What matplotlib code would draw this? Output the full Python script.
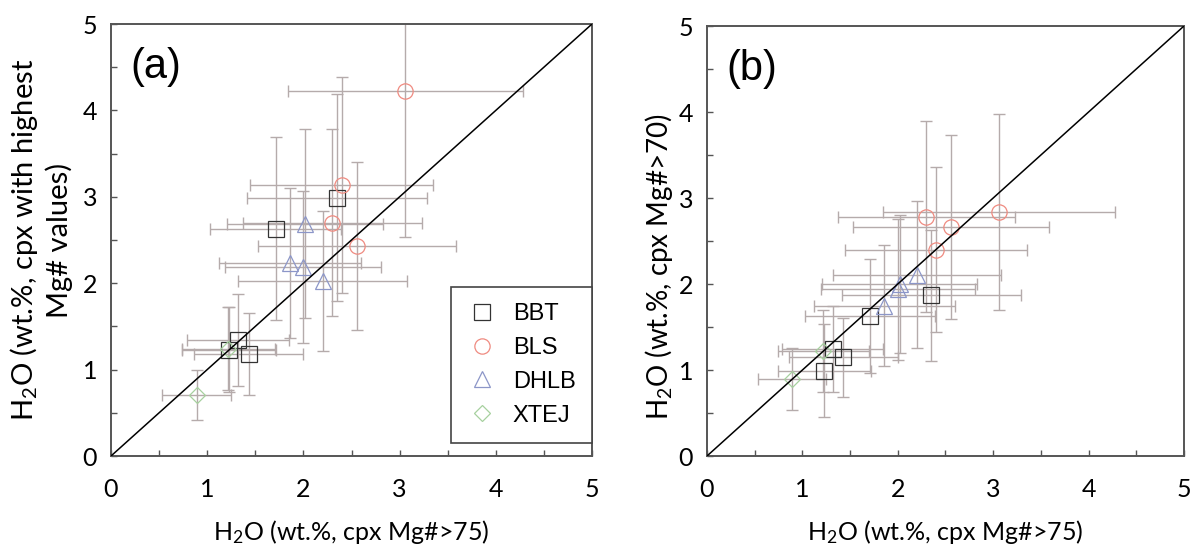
import matplotlib.pyplot as plt
from matplotlib.lines import Line2D
from matplotlib.ticker import MultipleLocator

# H2O estimates (wt.%) from cpx, x = cpx Mg#>75 for both panels
bbt_x = [1.71, 2.35, 1.32, 1.23, 1.43]
bbt_xerr = [0.68, 0.94, 0.53, 0.49, 0.57]
bbt_y_a = [2.63, 2.99, 1.34, 1.23, 1.18]
bbt_yerr_a = [1.06, 1.20, 0.53, 0.49, 0.47]
bbt_y_b = [1.63, 1.87, 1.24, 0.99, 1.15]
bbt_yerr_b = [0.66, 0.76, 0.50, 0.54, 0.46]

bls_x = [3.06, 2.40, 2.30, 2.56]
bls_xerr = [1.22, 0.95, 0.93, 1.03]
bls_y_a = [4.22, 3.14, 2.70, 2.43]
bls_yerr_a = [1.69, 1.25, 1.08, 0.97]
bls_y_b = [2.84, 2.40, 2.78, 2.66]
bls_yerr_b = [1.14, 0.96, 1.11, 1.07]

dhlb_x = [2.02, 1.86, 2.00, 2.20]
dhlb_xerr = [0.81, 0.74, 0.81, 0.88]
dhlb_y_a = [2.69, 2.23, 2.19, 2.02]
dhlb_yerr_a = [1.09, 0.87, 0.88, 0.81]
dhlb_y_b = [2.00, 1.75, 1.94, 2.11]
dhlb_yerr_b = [0.80, 0.70, 0.82, 0.85]

xtej_x = [0.89, 1.22]
xtej_xerr = [0.36, 0.48]
xtej_y_a = [0.71, 1.24]
xtej_yerr_a = [0.29, 0.48]
xtej_y_b = [0.90, 1.22]
xtej_yerr_b = [0.36, 0.48]

groups = ['BBT', 'BLS', 'DHLB', 'XTEJ']
markers = {'BBT': 's', 'BLS': 'o', 'DHLB': '^', 'XTEJ': 'D'}
sizes = {'BBT': 11, 'BLS': 11, 'DHLB': 11.5, 'XTEJ': 8}
colors = {'BBT': '#333333', 'BLS': '#ef8a80', 'DHLB': '#8c96c8', 'XTEJ': '#a6d19e'}

ERR_COLOR = '#b5abab'
FRAME_COLOR = '#555555'

plt.rcParams['mathtext.fontset'] = 'custom'
plt.rcParams['mathtext.rm'] = 'Lato'
plt.rcParams['mathtext.it'] = 'Lato:italic'


def draw_panel(ax, data, tag):
    """
        Draws one H2O-H2O comparison panel.

        Parameters
            ax:     The axes to draw on.
            data:   Dict of group -> (x, xerr, y, yerr).
            tag:    Panel label, e.g. '(a)'.
    """
    for grp in groups:
        x, xerr, y, yerr = data[grp]
        ax.errorbar(x, y, xerr=xerr, yerr=yerr, fmt='none', ecolor=ERR_COLOR,
                    elinewidth=1.0, capsize=4.5, capthick=1.0, zorder=2)
    for grp in groups:
        x, xerr, y, yerr = data[grp]
        ax.plot(x, y, linestyle='none', marker=markers[grp], markersize=sizes[grp],
                mfc='none', mec=colors[grp], mew=0.9, zorder=3)

    ax.plot([0, 5], [0, 5], color='black', lw=1.1, zorder=4)
    ax.set_xlim(0, 5)
    ax.set_ylim(0, 5)
    ax.set_xticks(range(6))
    ax.set_yticks(range(6))
    ax.xaxis.set_minor_locator(MultipleLocator(0.5))
    ax.yaxis.set_minor_locator(MultipleLocator(0.5))
    ax.tick_params(which='both', direction='in', length=4, width=1.0,
                   color=FRAME_COLOR, top=False, right=False)
    ax.tick_params(axis='x', which='major', pad=16, labelsize=18)
    ax.tick_params(axis='y', which='major', pad=10, labelsize=18)
    for lbl in ax.get_xticklabels() + ax.get_yticklabels():
        lbl.set_fontfamily('Lato')
    for sp in ax.spines.values():
        sp.set_color(FRAME_COLOR)
        sp.set_linewidth(1.4)

    ax.text(0.2, 4.5, tag, fontsize=30, family='Liberation Sans', va='center', ha='left')
    ax.set_xlabel('H$_2$O (wt.%, cpx Mg#>75)', fontsize=18, family='Lato', labelpad=12)


fig = plt.figure(figsize=(11.92, 5.47), dpi=100)
ax_a = fig.add_axes([111 / 1192, 1 - 456 / 547, 481 / 1192, 432 / 547])
ax_b = fig.add_axes([707 / 1192, 1 - 456 / 547, 477 / 1192, 430 / 547])

data_a = {
    'BBT': (bbt_x, bbt_xerr, bbt_y_a, bbt_yerr_a),
    'BLS': (bls_x, bls_xerr, bls_y_a, bls_yerr_a),
    'DHLB': (dhlb_x, dhlb_xerr, dhlb_y_a, dhlb_yerr_a),
    'XTEJ': (xtej_x, xtej_xerr, xtej_y_a, xtej_yerr_a),
}
data_b = {
    'BBT': (bbt_x, bbt_xerr, bbt_y_b, bbt_yerr_b),
    'BLS': (bls_x, bls_xerr, bls_y_b, bls_yerr_b),
    'DHLB': (dhlb_x, dhlb_xerr, dhlb_y_b, dhlb_yerr_b),
    'XTEJ': (xtej_x, xtej_xerr, xtej_y_b, xtej_yerr_b),
}

draw_panel(ax_a, data_a, '(a)')
draw_panel(ax_b, data_b, '(b)')

ax_a.set_ylabel('H$_2$O (wt.%, cpx with highest\nMg# values)', fontsize=21,
                family='Lato', linespacing=1.2)
ax_a.yaxis.set_label_coords(-0.08, 0.5)
ax_b.set_ylabel('H$_2$O (wt.%, cpx Mg#>70)', fontsize=20, family='Lato')
ax_b.yaxis.set_label_coords(-0.068, 0.44)

handles = [Line2D([], [], linestyle='none', marker=markers[g], markersize=sizes[g],
                  mfc='none', mec=colors[g], mew=0.9) for g in groups]
leg = ax_a.legend(handles, groups, loc='lower right', bbox_to_anchor=(1.0, 0.03),
                  borderaxespad=0, fancybox=False, framealpha=1,
                  edgecolor='#444444', prop={'family': 'Liberation Sans', 'size': 17},
                  labelspacing=0.5, handletextpad=0.7, handlelength=1.2,
                  borderpad=0.7)
leg.get_frame().set_linewidth(1.2)

fig.savefig('out.png', dpi=100)
